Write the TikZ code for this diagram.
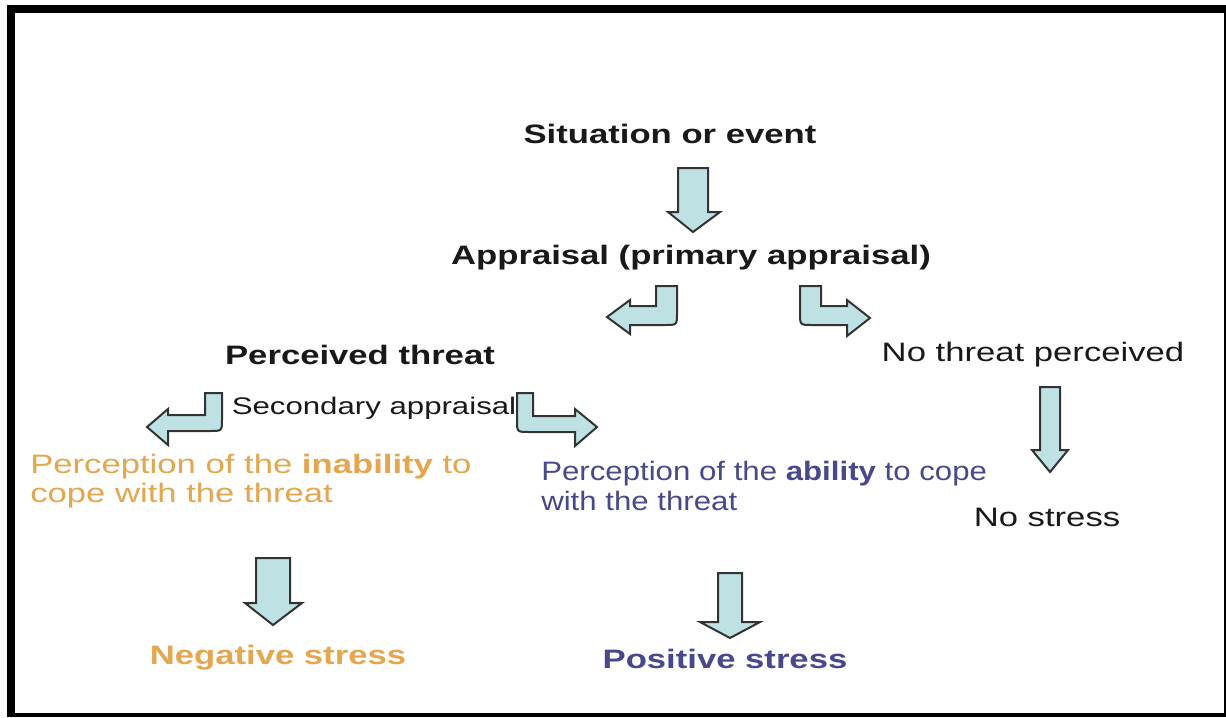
\documentclass[tikz,border=0pt]{standalone}
\usepackage{fontspec}
\newfontfamily\diafont{Liberation Sans}[FakeStretch=1.3]
\newfontfamily\narrowfont{Liberation Sans}[FakeStretch=1.17]

\definecolor{arrowfill}{RGB}{190,226,228}
\definecolor{negorange}{RGB}{228,166,78}
\definecolor{pospurple}{RGB}{72,72,140}
\definecolor{textgray}{RGB}{25,25,25}

\tikzset{
  plaintext/.style={font=\diafont\fontsize{20}{22}\selectfont, inner sep=0pt, text=textgray},
  boldtext/.style={plaintext, font=\diafont\bfseries\fontsize{20}{22}\selectfont},
  blockarrow/.style={fill=arrowfill, draw=black!80, line width=1.5pt, line join=miter},
}

\begin{document}
\begin{tikzpicture}[x=0.75pt, y=-0.75pt]

  \useasboundingbox (0,0) rectangle (1226,717);

  % Draw the frame
  \fill[black] (7,5) rectangle (1226,717);
  \fill[white] (15,13) rectangle (1224,713);

  % Labels
  \node[boldtext] (event) at (670,134) {Situation or event};
  \node[boldtext] (primary) at (691,258) {Appraisal (primary appraisal)};
  \node[boldtext] (threat) at (360,355) {Perceived threat};
  \node[plaintext] (nothreat) at (1033,355) {No threat perceived};
  \node[plaintext, font=\diafont\fontsize{18}{22}\selectfont] (secondary) at (374,408) {Secondary appraisal};
  \node[plaintext, text=negorange, anchor=west, align=left] (inability) at (30,481)
    {Perception of the \textbf{inability} to\\cope with the threat};
  \node[plaintext, font=\narrowfont\fontsize{20}{22}\selectfont, text=pospurple, anchor=west, align=left] (ability) at (541,486)
    {Perception of the \textbf{ability} to cope\\with the threat};
  \node[plaintext] (nostress) at (1047,517) {No stress};
  \node[boldtext, text=negorange] (negative) at (278,658) {Negative stress};
  \node[boldtext, text=pospurple] (positive) at (725,659) {Positive stress};

  % Draw the straight arrows
  \filldraw[blockarrow] (678,168) -- (708,168) -- (708,212) -- (720,212) -- (693,232) -- (668,212) -- (678,212) -- cycle;
  \filldraw[blockarrow] (1040,387) -- (1060,387) -- (1060,450) -- (1068,450) -- (1050,472) -- (1032,450) -- (1040,450) -- cycle;
  \filldraw[blockarrow] (256,558) -- (290,558) -- (290,603) -- (302,603) -- (273,625) -- (245,603) -- (256,603) -- cycle;
  \filldraw[blockarrow] (718,573) -- (742,573) -- (742,622) -- (760,622) -- (730,638) -- (700,622) -- (718,622) -- cycle;

  % Draw the bent arrows
  \filldraw[blockarrow] (656,286) -- (677,286) -- (677,313) .. controls (677,325) .. (665,325) -- (630,325) -- (630,334) -- (607,317) -- (630,300) -- (630,306) -- (656,306) -- cycle;
  \filldraw[blockarrow] (821,286) -- (800,286) -- (800,313) .. controls (800,325) .. (812,325) -- (847,325) -- (847,336) -- (870,318) -- (847,300) -- (847,306) -- (821,306) -- cycle;
  \filldraw[blockarrow] (205,393) -- (222,393) -- (222,419) .. controls (222,431) .. (210,431) -- (168,431) -- (168,445) -- (147,427) -- (168,409) -- (168,415) -- (205,415) -- cycle;
  \filldraw[blockarrow] (533,393) -- (517,393) -- (517,420) .. controls (517,432) .. (529,432) -- (575,432) -- (575,446) -- (597,427) -- (575,409) -- (575,416) -- (533,416) -- cycle;

\end{tikzpicture}
\end{document}
